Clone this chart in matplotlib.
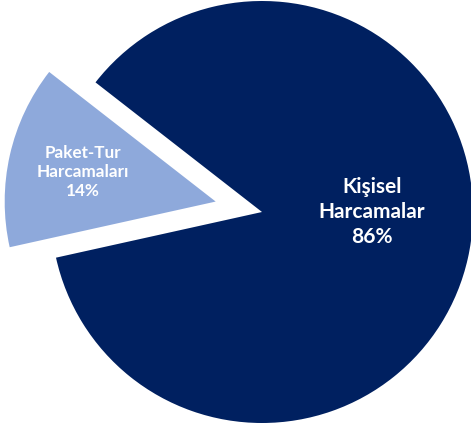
import matplotlib.pyplot as plt

labels = ["Kişisel\nHarcamalar", "Paket-Tur\nHarcamaları"]
values = [86, 14]
colors = ["#002060", "#8EA9DB"]

fig = plt.figure(figsize=(4.71, 4.28), dpi=100)
ax = fig.add_axes([0, 0, 1, 1])

wedges, _ = ax.pie(values, colors=colors, startangle=192.5, explode=(0, 0.225),
                   radius=1.0, wedgeprops=dict(linewidth=0))

# label positions (data coords, radius = 1)
ax.text(0.52, 0.0, f"{labels[0]}\n{values[0]}%", ha="center", va="center",
        color="white", fontsize=15, fontweight="bold", family="Lato", linespacing=1.3)
ax.text(-0.85, 0.19, f"{labels[1]}\n{values[1]}%", ha="center", va="center",
        color="white", fontsize=12.3, fontweight="bold", family="Lato", linespacing=1.25)

ax.set_aspect("auto")
ax.set_xlim(-262 / 211, (471 - 262) / 211)
ax.set_ylim(-216 / 211, 212 / 211)
ax.axis("off")

fig.savefig("out.png", dpi=100)
